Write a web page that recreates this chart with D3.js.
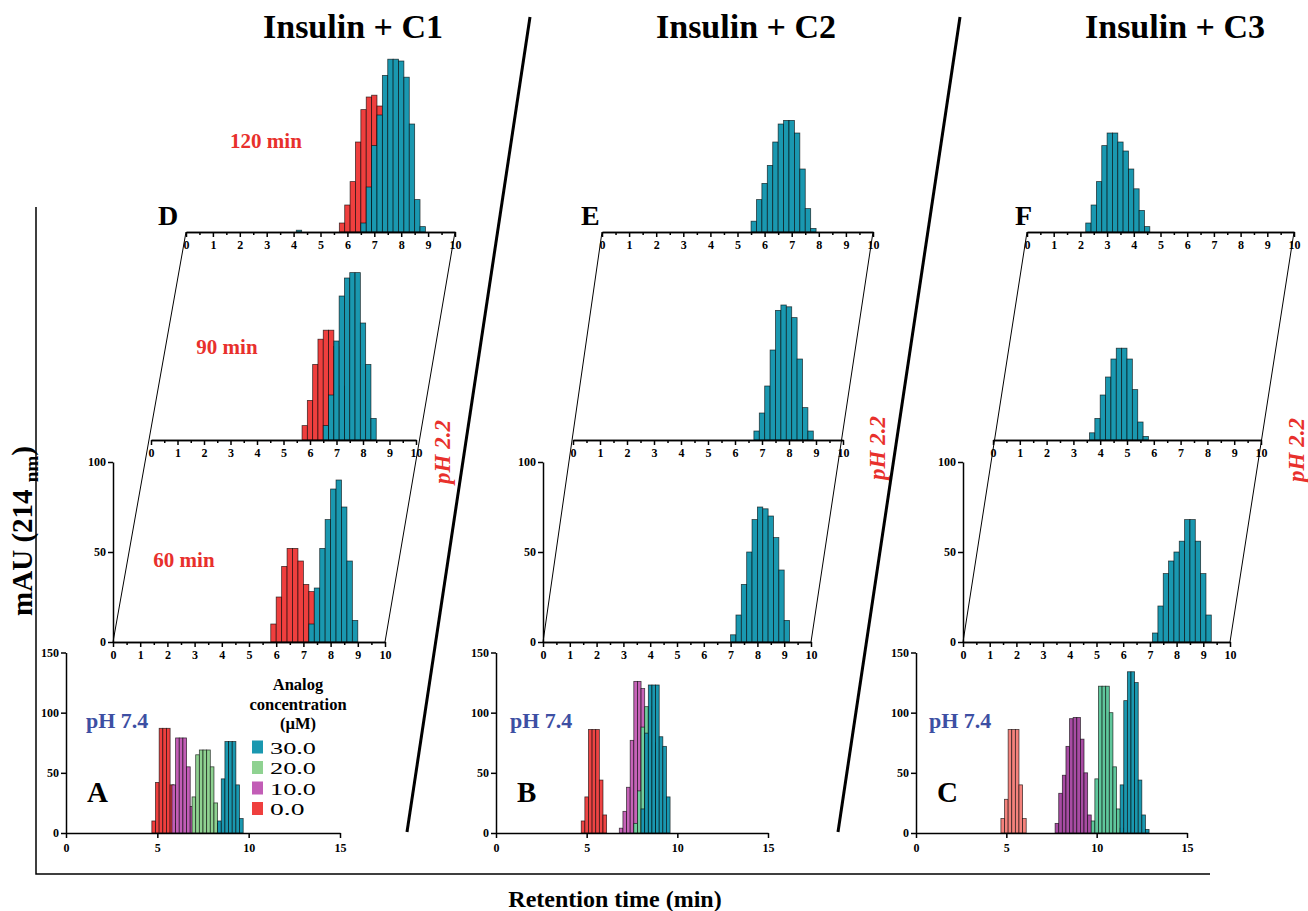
<!DOCTYPE html>
<html>
<head>
<meta charset="utf-8">
<script src="https://cdn.jsdelivr.net/npm/d3@7"></script>
<style>
  body { margin: 0; background: #fff; }
  svg text { font-family: "Liberation Serif", "Times New Roman", serif; }
</style>
</head>
<body>
<div id="content"></div>
<script>
const W = 1308;
const H = 911;

// ---- labels / ticks
const titles = ["Insulin + C1", "Insulin + C2", "Insulin + C3"];
const timeLabels = ["60 min", "90 min", "120 min"];
const concLabels = ["30.0", "20.0", "10.0", "0.0"];
const xTicks74 = [0, 5, 10, 15];
const yTicks74 = [0, 50, 100, 150];
const xTicks22 = d3.range(0, 11);
const yTicks22 = [0, 50, 100];

// ---- pH 7.4 chromatograms: [retention time (min), mAU]
const a0  = [[4.8,10],[5.0,42],[5.2,87],[5.4,87],[5.6,87],[5.8,40],[6.0,8]];
const a10 = [[5.9,40],[6.1,79],[6.3,79],[6.5,79],[6.7,55],[6.9,22]];
const a20 = [[7.0,30],[7.2,65],[7.4,69],[7.6,69],[7.8,69],[8.0,55],[8.2,25],[8.4,8]];
const a30 = [[8.4,10],[8.6,45],[8.8,76],[9.0,76],[9.2,76],[9.4,40],[9.6,12]];

const b0  = [[4.8,10],[5.0,30],[5.2,86],[5.4,86],[5.6,86],[5.8,44],[6.0,15]];
const b10 = [[6.9,4],[7.1,18],[7.3,38],[7.5,77],[7.7,126],[7.9,126],[8.1,120],[8.3,60]];
const b20 = [[7.7,8],[7.9,35],[8.1,88],[8.3,105],[8.5,105],[8.7,75],[8.9,35]];
const b30 = [[8.1,20],[8.3,83],[8.5,123],[8.7,123],[8.9,123],[9.1,80],[9.3,72],[9.5,30]];

const c0  = [[4.8,12],[5.0,28],[5.2,86],[5.4,86],[5.6,86],[5.8,40],[6.0,12]];
const c10 = [[7.8,8],[8.0,33],[8.2,48],[8.4,72],[8.6,95],[8.8,96],[9.0,96],[9.2,78],[9.4,50],[9.6,15]];
const c20 = [[9.8,10],[10.0,45],[10.2,122],[10.4,122],[10.6,122],[10.8,100],[11.0,55],[11.2,20],[11.4,4]];
const c30 = [[11.4,40],[11.6,110],[11.8,134],[12.0,134],[12.2,125],[12.4,44],[12.6,15],[12.8,3]];

// ---- pH 2.2 chromatograms (60, 90, 120 min)
const d60red   = [[5.9,10],[6.1,25],[6.3,42],[6.5,52],[6.7,52],[6.9,45],[7.1,32],[7.3,28]];
const d60teal  = [[7.3,10],[7.5,30],[7.7,52],[7.9,68],[8.1,85],[8.3,90],[8.5,75],[8.7,45],[8.9,12]];
const d90red   = [[5.8,8],[6.0,22],[6.2,42],[6.4,56],[6.6,61],[6.8,61],[7.0,52],[7.2,30]];
const d90teal  = [[6.6,8],[6.8,25],[7.0,55],[7.2,80],[7.4,90],[7.6,93],[7.8,93],[8.0,65],[8.2,42],[8.4,12]];
const d120red  = [[5.8,5],[6.0,15],[6.2,28],[6.4,50],[6.6,68],[6.8,75],[7.0,76],[7.2,70]];
const d120teal = [[4.2,1],[6.6,5],[6.8,25],[7.0,48],[7.2,65],[7.4,87],[7.6,96],[7.8,96],[8.0,95],[8.2,86],[8.4,60],[8.6,18],[8.8,3]];

const e60  = [[7.1,4],[7.3,15],[7.5,32],[7.7,50],[7.9,68],[8.1,75],[8.3,74],[8.5,70],[8.7,58],[8.9,40],[9.1,12]];
const e90  = [[6.8,5],[7.0,15],[7.2,30],[7.4,50],[7.6,72],[7.8,75],[8.0,74],[8.2,68],[8.4,45],[8.6,18],[8.8,5]];
const e120 = [[5.6,6],[5.8,18],[6.0,27],[6.2,37],[6.4,50],[6.6,60],[6.8,62],[7.0,62],[7.2,55],[7.4,35],[7.6,13],[7.8,2]];

const f60  = [[7.2,5],[7.4,20],[7.6,38],[7.8,45],[8.0,50],[8.2,56],[8.4,68],[8.6,68],[8.8,56],[9.0,38],[9.2,15]];
const f90  = [[3.7,4],[3.9,12],[4.1,25],[4.3,35],[4.5,45],[4.7,51],[4.9,51],[5.1,45],[5.3,28],[5.5,10],[5.7,2]];
const f120 = [[2.3,5],[2.5,15],[2.7,28],[2.9,48],[3.1,55],[3.3,55],[3.5,50],[3.7,45],[3.9,35],[4.1,24],[4.3,12],[4.5,3]];

const BIN = 0.2;

// colours
const TEAL = "#1a98b0", RED = "#ef3f3e", MAG = "#c25db6", GREEN = "#8fd291";
const BLUE = "#3d4fa3";

const svg = d3.select("#content").append("svg")
  .attr("width", W).attr("height", H);
svg.append("rect").attr("width", W).attr("height", H).attr("fill", "white");

function bars(g, x, y, data, color) {
  g.append("g").selectAll("rect").data(data).enter().append("rect")
    .attr("x", d => x(d[0] - BIN / 2))
    .attr("width", d => x(d[0] + BIN / 2) - x(d[0] - BIN / 2))
    .attr("y", d => y(d[1]))
    .attr("height", d => y(0) - y(d[1]))
    .attr("fill", color)
    .attr("stroke", "#000")
    .attr("stroke-width", 0.8)
    .attr("stroke-opacity", 0.7);
}

function styleAxis(sel, fs) {
  sel.selectAll("path,line").attr("stroke", "#000").attr("stroke-width", 1.5);
  sel.selectAll("text").attr("font-size", fs).attr("font-weight", "bold").attr("fill", "#000")
    .attr("font-family", "'Liberation Serif', serif");
}

// ---- pH 7.4 panels
function panel74(p) {
  const g = svg.append("g");
  const x = d3.scaleLinear().domain([0, 15]).range([p.x0, p.x1]);
  const y = d3.scaleLinear().domain([0, 150]).range([833, 652.5]);
  p.series.forEach(s => bars(g, x, y, s[0], s[1]));
  const ax = g.append("g").attr("transform", "translate(0,833)")
    .call(d3.axisBottom(x).tickValues(xTicks74).tickSize(5).tickSizeOuter(0).tickPadding(5));
  styleAxis(ax, 12);
  const ay = g.append("g").attr("transform", `translate(${p.x0},0)`)
    .call(d3.axisLeft(y).tickValues(yTicks74).tickSize(5).tickSizeOuter(0).tickPadding(2));
  styleAxis(ay, 12);
  g.append("text").attr("x", p.x0 + 21).attr("y", 802).attr("font-size", 29)
    .attr("font-weight", "bold").text(p.letter);
  g.append("text").attr("x", p.x0 + p.phdx).attr("y", 728).attr("font-size", 22)
    .attr("font-weight", "bold").attr("fill", BLUE).text("pH 7.4");
}

panel74({ x0: 66, x1: 340, letter: "A", phdx: 20,
  series: [[a0, RED], [a10, MAG], [a20, GREEN], [a30, TEAL]] });
panel74({ x0: 496, x1: 768, letter: "B", phdx: 14,
  series: [[b0, "#ee4444"], [b10, "#c663b8"], [b20, "#6fcf9e"], [b30, TEAL]] });
panel74({ x0: 916, x1: 1187, letter: "C", phdx: 13,
  series: [[c0, "#f4827c"], [c10, "#a84ca3"], [c20, "#5fc79c"], [c30, TEAL]] });

// legend (panel A)
const leg = svg.append("g");
["Analog", "concentration", "(\u00b5M)"].forEach((t, i) => {
  leg.append("text").attr("x", 298).attr("y", 690 + i * 19.5).attr("text-anchor", "middle")
    .attr("font-size", 16.5).attr("font-weight", "bold").text(t);
});
const legColors = [TEAL, GREEN, MAG, RED];
concLabels.forEach((t, i) => {
  const cy = 747 + i * 20.5;
  leg.append("rect").attr("x", 252).attr("y", cy - 6.5).attr("width", 11).attr("height", 13)
    .attr("fill", legColors[i]);
  leg.append("text").attr("x", 270).attr("y", cy + 6.5).attr("font-size", 17.5)
    .attr("textLength", t.length * 11.5).attr("lengthAdjust", "spacingAndGlyphs").text(t);
});

// ---- pH 2.2 stacked panels
function panel22(p) {
  const g = svg.append("g");
  const pl = p.planes;
  // parallelogram sides
  g.append("line").attr("x1", pl[0].ox).attr("y1", pl[0].base).attr("x2", pl[2].ox).attr("y2", pl[2].base)
    .attr("stroke", "#000").attr("stroke-width", 1);
  g.append("line").attr("x1", pl[0].ox + pl[0].w).attr("y1", pl[0].base)
    .attr("x2", pl[2].ox + pl[2].w).attr("y2", pl[2].base)
    .attr("stroke", "#000").attr("stroke-width", 1);
  pl.forEach((q, k) => {
    const x = d3.scaleLinear().domain([0, 10]).range([q.ox, q.ox + q.w]);
    const y = d3.scaleLinear().domain([0, 100]).range([q.base, q.base - 180]);
    p.series[k].forEach(s => bars(g, x, y, s[0], s[1]));
    const minor = g.append("g").attr("transform", `translate(0,${q.base})`)
      .call(d3.axisBottom(x).tickValues(d3.range(0.5, 10, 1)).tickSize(3).tickFormat("").tickSizeOuter(0));
    styleAxis(minor, 12);
    const ax = g.append("g").attr("transform", `translate(0,${q.base})`)
      .call(d3.axisBottom(x).tickValues(xTicks22).tickSize(5).tickSizeOuter(0).tickPadding(3));
    styleAxis(ax, 12);
    if (k === 0) {
      const ay = g.append("g").attr("transform", `translate(${q.ox},0)`)
        .call(d3.axisLeft(y).tickValues(yTicks22).tickSize(5).tickSizeOuter(0).tickPadding(2));
      styleAxis(ay, 12);
    }
  });
  g.append("text").attr("x", p.letterX).attr("y", 225).attr("font-size", 28)
    .attr("font-weight", "bold").text(p.letter);
  g.append("text").attr("transform", `translate(${p.phX},${p.phY}) rotate(-90)`)
    .attr("text-anchor", "middle").attr("font-size", 23).attr("font-weight", "bold")
    .attr("font-style", "italic").attr("fill", "#e8302c").text("pH 2.2");
  if (p.times) {
    p.times.forEach((t, k) => {
      g.append("text").attr("x", t[0]).attr("y", t[1]).attr("text-anchor", "middle")
        .attr("font-size", 21).attr("font-weight", "bold").attr("fill", "#e8302c").text(timeLabels[k]);
    });
  }
}

panel22({
  letter: "D", letterX: 158, phX: 450, phY: 452,
  planes: [{ ox: 113, base: 642, w: 272 }, { ox: 151, base: 440, w: 265 }, { ox: 186, base: 232, w: 269 }],
  series: [[[d60red, RED], [d60teal, TEAL]], [[d90red, RED], [d90teal, TEAL]], [[d120red, RED], [d120teal, TEAL]]],
  times: [[184, 567], [227, 354], [266, 148]]
});
panel22({
  letter: "E", letterX: 581, phX: 885, phY: 448,
  planes: [{ ox: 543, base: 642, w: 268 }, { ox: 573, base: 440, w: 270 }, { ox: 602, base: 232, w: 271 }],
  series: [[[e60, TEAL]], [[e90, TEAL]], [[e120, TEAL]]]
});
panel22({
  letter: "F", letterX: 1015, phX: 1304, phY: 450,
  planes: [{ ox: 963, base: 642, w: 267 }, { ox: 993, base: 440, w: 268 }, { ox: 1027, base: 232, w: 267 }],
  series: [[[f60, TEAL]], [[f90, TEAL]], [[f120, TEAL]]]
});

// ---- titles
[353, 746, 1175].forEach((cx, i) => {
  svg.append("text").attr("x", cx).attr("y", 38).attr("text-anchor", "middle")
    .attr("font-size", 34).attr("font-weight", "bold").text(titles[i]);
});

// ---- separators
[[407, 832, 530, 17], [838, 832, 960, 17]].forEach(s => {
  svg.append("line").attr("x1", s[0]).attr("y1", s[1]).attr("x2", s[2]).attr("y2", s[3])
    .attr("stroke", "#000").attr("stroke-width", 3);
});

// ---- outer frame and global axis titles
svg.append("path").attr("d", "M36,207V874H1210").attr("fill", "none")
  .attr("stroke", "#000").attr("stroke-width", 1.5);
const yl = svg.append("text").attr("transform", "translate(32,531) rotate(-90)")
  .attr("text-anchor", "middle").attr("font-size", 29).attr("font-weight", "bold");
yl.append("tspan").text("mAU (214 ");
yl.append("tspan").attr("font-size", 19).attr("dy", 6).text("nm");
yl.append("tspan").attr("dy", -6).text(")");
svg.append("text").attr("x", 615).attr("y", 907).attr("text-anchor", "middle")
  .attr("font-size", 24).attr("font-weight", "bold").text("Retention time (min)");
</script>
</body>
</html>
